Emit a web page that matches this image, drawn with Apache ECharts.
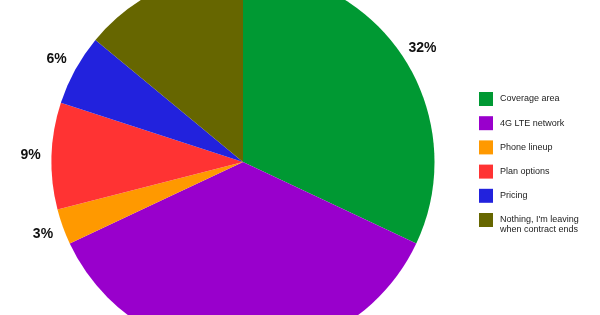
<!DOCTYPE html>
<html><head><meta charset="utf-8">
<script src="https://cdn.jsdelivr.net/npm/echarts@6/dist/echarts.min.js"></script>
<style>html,body{margin:0;padding:0;background:#fff}#c{width:600px;height:315px}</style>
</head><body><div id="c"></div>
<script>
var categories = ["Coverage area", "4G LTE network", "Phone lineup", "Plan options", "Pricing", "Nothing, I'm leaving when contract ends"];
var values = [32, 36, 3, 9, 6, 14];
var colors = ["#009933", "#9900CC", "#FF9900", "#FF3333", "#2222DD", "#666600"];

var data = categories.map(function (n, i) { return { name: n, value: values[i] }; });
var legendBase = {
  orient: 'vertical', left: 479, padding: 0,
  itemWidth: 14, itemHeight: 14, itemGap: 10.2,
  icon: 'rect',
  textStyle: { fontFamily: 'Liberation Sans, Arial', fontSize: 9, color: '#222', lineHeight: 10, padding: [0, 0, 0, 2] }
};
var chart = echarts.init(document.getElementById('c'), null, { renderer: 'canvas' });
chart.setOption({
  animation: false,
  color: colors,
  legend: [
    Object.assign({}, legendBase, {
      top: 92,
      data: categories.slice(0, categories.length - 1)
    }),
    Object.assign({}, legendBase, {
      top: 205,
      formatter: function (n) { return '\n' + n.replace("I'm leaving ", "I'm leaving\n"); },
      data: categories.slice(categories.length - 1)
    })
  ],
  series: [{
    type: 'pie', center: [243, 162], radius: [0, 191.5], startAngle: 90, clockwise: true,
    label: { show: false }, labelLine: { show: false },
    itemStyle: { borderWidth: 0 },
    emphasis: { disabled: true },
    data: data
  }, {
    type: 'pie', center: [243, 162], radius: [192, 227.2], startAngle: 90, clockwise: true,
    silent: true, legendHoverLink: false,
    itemStyle: { color: 'rgba(0,0,0,0)', borderWidth: 0 },
    label: { show: true, position: 'inside', formatter: '{c}%', fontFamily: 'Liberation Sans, Arial', fontSize: 14, fontWeight: 'bold', color: '#111' },
    labelLine: { show: false },
    emphasis: { disabled: true },
    data: categories.map(function (n, i) { return { name: n + ' ', value: values[i] }; })
  }]
});
</script></body></html>
